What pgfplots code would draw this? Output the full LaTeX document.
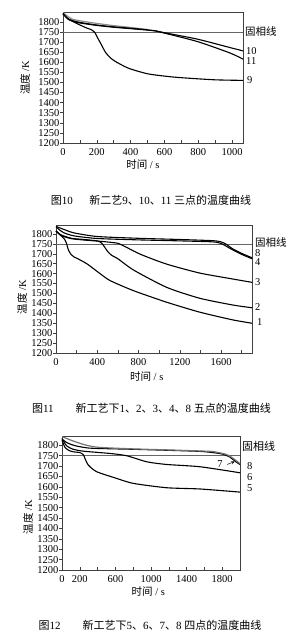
\documentclass[border=0pt]{standalone}
\usepackage{fontspec}
\setmainfont{Liberation Serif}
\newfontfamily\cjk{Noto Sans CJK SC}
\usepackage{pgfplots}
\pgfplotsset{compat=1.18}
\pgfplotsset{
  chart/.style={
    scale only axis,
    ymin=1200, ymax=1845,
    ytick={1200,1250,...,1800},
    xtick pos=bottom, ytick pos=left,
    tick align=inside,
    major tick length=3pt, minor tick length=3pt,
    ytick style={xshift=-3pt, black!75, line width=0.5pt},
    xtick style={black!75, line width=0.5pt},
    axis line style={black!75, line width=0.6pt},
    tick label style={font=\fontsize{10.5}{10.5}\selectfont},
    xticklabel style={yshift=-2pt},
    /pgf/number format/assume math mode=true,
    /pgf/number format/1000 sep={},
    scaled ticks=false,
    clip=false,
    xlabel={{\cjk 时间} / s},
    ylabel={{\cjk 温度} /K},
    label style={font=\fontsize{10.5}{12}\selectfont},
    cycle list={{black}},
    every axis plot/.append style={line width=1.1pt, no marks, smooth, tension=0.4},
  },
  solidus/.style={black!60, line width=0.7pt, sharp plot},
}
\tikzset{lab/.style={anchor=west, inner sep=0pt, font=\fontsize{10.5}{12}\selectfont}}
\begin{document}
\begin{tikzpicture}[x=1pt,y=1pt]
\useasboundingbox (0,0) rectangle (303,-640);

% ---------- Chart 1 ----------
\begin{axis}[chart, at={(63pt,-143pt)}, anchor=south west, width=180pt, height=130.3pt,
  xmin=0, xmax=1065, xtick={0,200,...,1000}, minor xtick={100,300,...,900},
  xlabel style={at={(axis description cs:0.444,-0.169)}, anchor=center},
  ylabel style={at={(axis description cs:-0.211,0.5)}, anchor=center}]
\addplot[solidus] coordinates {(0,1750) (1065,1750)};
\addplot[black!45, line width=1.2pt] coordinates {(0,1845)(50,1815)(100,1805)(200,1792)(300,1781)(400,1772)(500,1762)};
\addplot[black] coordinates {(0,1840)(30,1815)(78,1793)(138,1770)(170,1760)(190,1745)(205,1720)(225,1690)(252,1648)(280,1622)(311,1603)(388,1570)(505,1542)(660,1526)(893,1513)(1065,1510)};
\addplot[black] coordinates {(0,1840)(30,1815)(60,1805)(100,1797)(200,1784)(300,1775)(400,1768)(500,1760)(550,1755)(600,1746)(796,1714)(990,1672)(1065,1656)};
\addplot[black] coordinates {(0,1840)(30,1813)(60,1802)(100,1794)(200,1782)(300,1773)(400,1766)(500,1759)(550,1754)(600,1744)(796,1702)(990,1645)(1065,1615)};
\node[lab, xshift=2pt] at (axis cs:1065,1752) {\cjk 固相线};
\node[lab, xshift=3pt] at (axis cs:1065,1654) {10};
\node[lab, xshift=3pt] at (axis cs:1065,1607) {11};
\node[lab, xshift=4pt] at (axis cs:1065,1513) {9};
\end{axis}
\node[font=\fontsize{11}{13}\selectfont] at (151,-200) {{\cjk 图}10\hspace{1.5em}{\cjk 新二艺}9{\cjk 、}10{\cjk 、}11 {\cjk 三点的温度曲线}};

% ---------- Chart 2 ----------
\begin{axis}[chart, at={(56pt,-353pt)}, anchor=south west, width=196pt, height=128pt,
  xmin=0, xmax=1900, xtick={0,400,...,1600}, minor xtick={200,600,...,1800},
  xlabel style={at={(axis description cs:0.463,-0.1875)}, anchor=center},
  ylabel style={at={(axis description cs:-0.173,0.4375)}, anchor=center}]
\addplot[solidus] coordinates {(0,1750) (1900,1750)};
\addplot[black] coordinates {(0,1815)(40,1795)(80,1775)(100,1755)(120,1720)(144,1698)(175,1684)(208,1676)(304,1648)(432,1598)(528,1564)(752,1514)(1072,1456)(1392,1406)(1712,1367)(1900,1350)};
\addplot[black] coordinates {(0,1815)(50,1795)(150,1778)(272,1772)(400,1765)(440,1755)(470,1735)(500,1712)(540,1692)(600,1675)(752,1618)(1072,1531)(1392,1476)(1712,1442)(1900,1428)};
\addplot[black] coordinates {(0,1815)(50,1792)(150,1776)(300,1768)(450,1762)(600,1753)(656,1740)(816,1698)(1072,1648)(1392,1603)(1712,1573)(1900,1556)};
\addplot[black] coordinates {(0,1838)(100,1818)(176,1805)(400,1787)(800,1778)(1200,1772)(1520,1766)(1600,1760)(1650,1748)(1712,1725)(1800,1702)(1900,1680)};
\addplot[black] coordinates {(0,1835)(40,1818)(80,1805)(176,1790)(400,1777)(800,1770)(1200,1765)(1520,1760)(1600,1752)(1650,1738)(1712,1720)(1800,1697)(1900,1675)};
\node[lab, xshift=3pt] at (axis cs:1900,1758) {\cjk 固相线};
\node[lab, xshift=3pt] at (axis cs:1900,1706) {8};
\node[lab, xshift=3pt] at (axis cs:1900,1656) {4};
\node[lab, xshift=3pt] at (axis cs:1900,1556) {3};
\node[lab, xshift=3pt] at (axis cs:1900,1430) {2};
\node[lab, xshift=5pt] at (axis cs:1900,1355) {1};
\end{axis}
\node[font=\fontsize{11}{13}\selectfont] at (151.5,-408) {{\cjk 图}11\hspace{2em}{\cjk 新工艺下}1{\cjk 、}2{\cjk 、}3{\cjk 、}4{\cjk 、}8 {\cjk 五点的温度曲线}};

% ---------- Chart 3 ----------
\begin{axis}[chart, at={(62pt,-570pt)}, anchor=south west, width=178pt, height=134pt,
  xmin=0, xmax=2000, xtick={0,200,600,1000,1400,1800}, minor xtick={400,800,1200,1600,2000},
  xlabel style={at={(axis description cs:0.485,-0.157)}, anchor=center},
  ylabel style={at={(axis description cs:-0.191,0.396)}, anchor=center}]
\addplot[solidus] coordinates {(0,1750) (2000,1750)};
\addplot[black] coordinates {(0,1825)(34,1790)(80,1775)(127,1769)(202,1765)(240,1755)(258,1737)(296,1705)(390,1673)(614,1641)(801,1617)(1176,1596)(1551,1590)(2000,1575)};
\addplot[black] coordinates {(0,1833)(52,1798)(120,1782)(240,1772)(539,1761)(727,1750)(951,1721)(1176,1708)(1551,1697)(2000,1668)};
\addplot[black] coordinates {(0,1830)(60,1812)(150,1798)(300,1787)(500,1784)(800,1781)(1200,1776)(1550,1771)(1700,1765)(1800,1758)(1880,1745)(1950,1722)(2000,1708)};
\addplot[black!55, line width=1.2pt] coordinates {(0,1842)(100,1825)(200,1810)(300,1798)(427,1790)(800,1783)(1200,1778)(1550,1773)(1700,1770)(1850,1756)(1925,1737)(2000,1712)};
\node[lab, xshift=2pt, font=\fontsize{11}{12}\selectfont] at (axis cs:2000,1793) {\cjk 固相线};
\node[lab, xshift=7pt] at (axis cs:2000,1702) {8};
\node[lab, xshift=7pt] at (axis cs:2000,1649) {6};
\node[lab, xshift=7pt] at (axis cs:2000,1593) {5};
\node[font=\fontsize{10.5}{12}\selectfont, inner sep=0pt] at (axis cs:1775,1709) {7};
\draw[black, line width=0.5pt, ->, >=stealth] (axis cs:1855,1708) -- (axis cs:1940,1722);
\end{axis}
\node[font=\fontsize{11}{13}\selectfont] at (150,-625) {{\cjk 图}12\hspace{2em}{\cjk 新工艺下}5{\cjk 、}6{\cjk 、}7{\cjk 、}8 {\cjk 四点的温度曲线}};
\end{tikzpicture}
\end{document}
